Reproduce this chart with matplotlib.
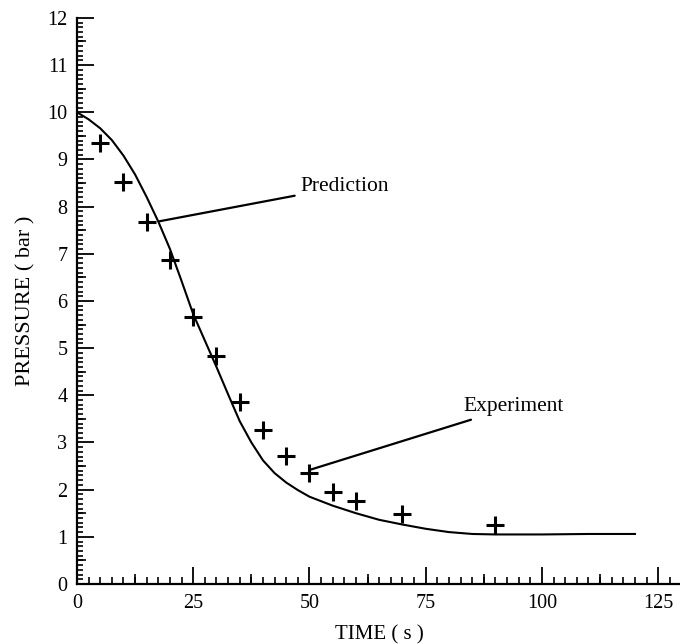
import numpy as np
import matplotlib
matplotlib.use("Agg")
import matplotlib.pyplot as plt
from matplotlib.ticker import MultipleLocator

# predicted pressure history
pred_time = [0, 2.5, 5, 7.5, 10, 12.5, 15, 17.5, 20, 22.5, 25, 27.5, 30, 32.5, 35, 37.5,
             40, 42.5, 45, 47.5, 50, 55, 60, 65, 70, 75, 80, 85, 90, 100, 110, 120]
pred_pressure = [10.0, 9.85, 9.66, 9.41, 9.08, 8.68, 8.2, 7.68, 7.1, 6.42, 5.72, 5.16, 4.6,
                 4.02, 3.45, 3.0, 2.62, 2.35, 2.15, 1.99, 1.85, 1.66, 1.50, 1.36, 1.26, 1.17,
                 1.10, 1.06, 1.05, 1.05, 1.06, 1.06]

# measured points
exp_time = [5, 10, 15, 20, 25, 30, 35, 40, 45, 50, 55, 60, 70, 90]
exp_pressure = [9.34, 8.52, 7.68, 6.86, 5.67, 4.84, 3.86, 3.26, 2.72, 2.36, 1.96, 1.76, 1.48, 1.26]

plt.rcParams["font.family"] = ["Liberation Serif", "DejaVu Serif"]

fig = plt.figure(figsize=(6.8, 6.44), dpi=100)
ax = fig.add_axes([0.1132, 0.0932, 0.889, 0.879])

ax.plot(pred_time, pred_pressure, color="black", linewidth=1.5)
ax.plot(exp_time, exp_pressure, linestyle="none", marker="+", markersize=13,
        markeredgewidth=2.2, color="black")

ax.set_xlim(0, 130)
ax.set_ylim(0, 12)

for side in ["top", "right"]:
    ax.spines[side].set_visible(False)
for side in ["left", "bottom"]:
    ax.spines[side].set_linewidth(1.6)

ax.xaxis.set_major_locator(MultipleLocator(25))
ax.xaxis.set_minor_locator(MultipleLocator(2.5))
ax.yaxis.set_major_locator(MultipleLocator(1))
ax.yaxis.set_minor_locator(MultipleLocator(0.1))
ax.tick_params(which="major", direction="in", length=12, width=1.3, labelsize=14.5, pad=7)
ax.tick_params(axis="x", which="minor", direction="in", length=5, width=1.2)
ax.tick_params(axis="y", which="minor", direction="in", length=4.5, width=1.2)

# mid-size ticks at the half steps
secx = ax.secondary_xaxis("bottom")
secx.set_xticks(np.arange(12.5, 130, 25))
secx.tick_params(direction="in", length=7.5, width=1.2, labelbottom=False)
secx.spines["bottom"].set_visible(False)
secy = ax.secondary_yaxis("left")
secy.set_yticks(np.arange(0.5, 12, 1))
secy.tick_params(direction="in", length=6.5, width=1.2, labelleft=False)
secy.spines["left"].set_visible(False)

ax.set_xlabel("TIME ( s )", fontsize=15, labelpad=9)
ax.set_ylabel("PRESSURE ( bar )", fontsize=16, labelpad=8)

ax.annotate("Prediction", xy=(17.8, 7.69), xytext=(48, 8.43), fontsize=15.5,
            va="center", ha="left",
            arrowprops=dict(arrowstyle="-", color="black", linewidth=1.6,
                            shrinkA=2, shrinkB=0))
ax.annotate("Experiment", xy=(50.1, 2.42), xytext=(83, 3.76), fontsize=15.5,
            va="center", ha="left",
            arrowprops=dict(arrowstyle="-", color="black", linewidth=1.6,
                            shrinkA=2, shrinkB=0))

fig.savefig("out.png", dpi=100)
